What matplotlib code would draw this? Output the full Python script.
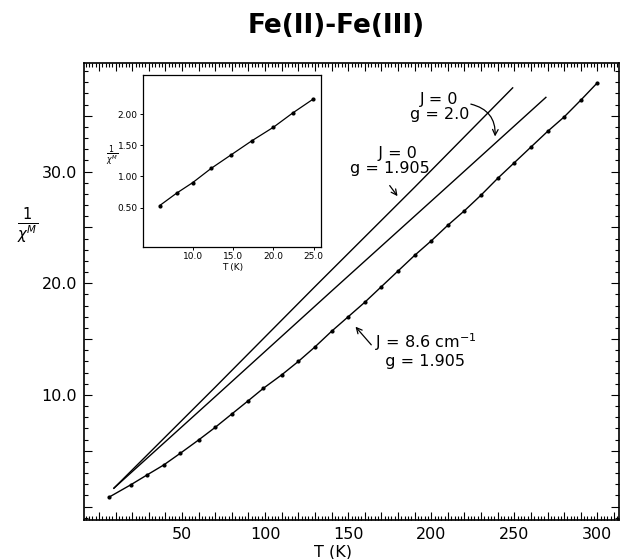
import numpy as np
import matplotlib.pyplot as plt
from matplotlib.ticker import MultipleLocator, FuncFormatter

# main plot: J = 8.6 cm-1, g = 1.905 (points + line)
t_fit = [6, 19, 29, 39, 49, 60, 70, 80, 90, 99, 110, 120, 130, 140, 150,
         160, 170, 180, 190, 200, 210, 220, 230, 240, 250, 260, 270, 280, 290, 300]
chi_fit = [0.84, 1.94, 2.84, 3.73, 4.78, 5.97, 7.1, 8.3, 9.5, 10.6, 11.8, 13.0,
           14.3, 15.7, 17.0, 18.3, 19.7, 21.1, 22.5, 23.8, 25.2, 26.5, 27.9,
           29.4, 30.8, 32.2, 33.6, 34.9, 36.4, 37.96]

# J = 0, g = 1.905
t_g1905 = [9, 70, 130, 190, 249]
chi_g1905 = [1.65, 10.7, 19.7, 28.6, 37.5]

# J = 0, g = 2.0
t_g20 = [9, 70, 140, 210, 269]
chi_g20 = [1.65, 9.85, 19.3, 28.7, 36.65]

# inset, low temperature
t_low = [5.9, 8.0, 10.0, 12.3, 14.8, 17.3, 20.0, 22.4, 24.9]
chi_low = [0.53, 0.73, 0.90, 1.13, 1.35, 1.57, 1.79, 2.02, 2.24]

plt.rcParams['font.family'] = 'DejaVu Sans'

fig = plt.figure(figsize=(6.2, 5.59), dpi=100)
ax = fig.add_axes([84/620, 39/559, 535/620, 456.7/559])

ax.plot(t_g1905, chi_g1905, color='black', lw=1.0)
ax.plot(t_g20, chi_g20, color='black', lw=1.0)
ax.plot(t_fit, chi_fit, color='black', lw=1.0, marker='o', ms=2.0)

ax.set_xlim(-9, 313)
ax.set_ylim(-1.2, 39.7)

ax.xaxis.set_major_locator(MultipleLocator(10))
ax.xaxis.set_minor_locator(MultipleLocator(2))
ax.yaxis.set_major_locator(MultipleLocator(5))
ax.yaxis.set_minor_locator(MultipleLocator(1))
ax.xaxis.set_major_formatter(FuncFormatter(
    lambda v, p: f'{v:.0f}' if v > 0 and abs(v % 50) < 1e-6 else ''))
ax.yaxis.set_major_formatter(FuncFormatter(
    lambda v, p: f'{v:.1f}' if v > 0 and abs(v % 10) < 1e-6 else ''))
ax.tick_params(which='both', direction='in', top=True, right=True,
               labelsize=11.5, pad=5, width=0.8)
ax.tick_params(which='major', length=6)
ax.tick_params(which='minor', length=3)
for s in ax.spines.values():
    s.set_linewidth(1.2)

ax.set_xlabel('T (K)', fontsize=11.5, labelpad=2, x=0.465)
fig.text(28/620, 1 - 226/559, r'$\frac{1}{\chi^{M}}$', fontsize=15,
         ha='center', va='center')

fig.text(336/620, 1 - 26/559, 'Fe(II)-Fe(III)', fontsize=19,
         fontweight='bold', ha='center', va='center')

# annotations
ax.text(205, 35.8, 'J = 0\ng = 2.0', fontsize=11.5, ha='center',
        va='center', linespacing=1.0)
ax.annotate('', xy=(238.3, 32.9), xytext=(222.2, 36.1),
            arrowprops=dict(arrowstyle='->', color='black', lw=0.9,
                            connectionstyle='arc3,rad=-0.45'))
ax.text(175, 30.95, '   J = 0\ng = 1.905', fontsize=11.5, ha='center',
        va='center', linespacing=1.0)
ax.annotate('', xy=(180.7, 27.6), xytext=(174, 28.95),
            arrowprops=dict(arrowstyle='->', color='black', lw=0.9))
ax.text(166, 14.0, 'J = 8.6 cm$^{-1}$\n  g = 1.905', fontsize=11.5,
        ha='left', va='center', linespacing=1.1)
ax.annotate('', xy=(153.3, 16.3), xytext=(165, 14.3),
            arrowprops=dict(arrowstyle='->', color='black', lw=0.9))

# inset
axi = fig.add_axes([143.3/620, 1 - 246.7/559, 177.7/620, 171.7/559])
axi.plot(t_low, chi_low, color='black', lw=0.9, marker='o', ms=2.0)
axi.set_xlim(3.88, 25.9)
axi.set_ylim(-0.13, 2.63)
axi.set_xticks([10, 15, 20, 25])
axi.set_xticklabels(['10.0', '15.0', '20.0', '25.0'])
axi.set_yticks([0.5, 1.0, 1.5, 2.0])
axi.set_yticklabels(['0.50', '1.00', '1.50', '2.00'])
axi.tick_params(direction='out', length=2.5, labelsize=6.5, pad=1.5, width=0.7)
for s in axi.spines.values():
    s.set_linewidth(0.9)
axi.set_xlabel('T (K)', fontsize=6.5, labelpad=1)
fig.text(112/620, 1 - 156/559, r'$\frac{1}{\chi^{M}}$', fontsize=8,
         ha='center', va='center')

fig.savefig('out.png', dpi=100)
